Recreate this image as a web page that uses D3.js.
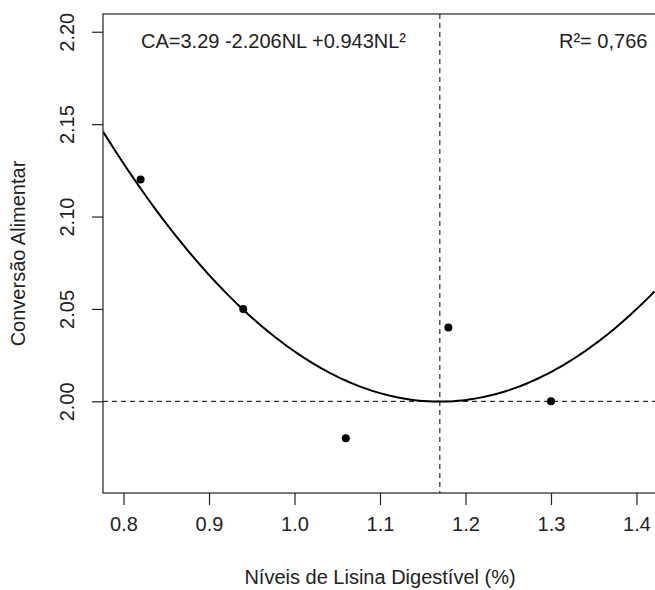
<!DOCTYPE html>
<html>
<head>
<meta charset="utf-8">
<script src="https://cdn.jsdelivr.net/npm/d3@7"></script>
<style>
  body { margin: 0; background: #fff; }
  svg { display: block; font-family: "Liberation Sans", Arial, sans-serif; }
</style>
</head>
<body>
<div id="chart"></div>
<script>
// observed points
const lysine = [0.82, 0.94, 1.06, 1.18, 1.30];
const feedConv = [2.12, 2.05, 1.98, 2.04, 2.00];

// fitted quadratic CA = b0 + b1*NL + b2*NL^2
const coef = [3.29, -2.206, 0.943];
const optimumX = 1.17;
const refY = 2.00;

const xTicks = [0.8, 0.9, 1.0, 1.1, 1.2, 1.3, 1.4];
const yTicks = [2.00, 2.05, 2.10, 2.15, 2.20];
const xLim = [0.8, 1.4];
const yLim = [1.96, 2.20];

const width = 655, height = 590;
const plot = { left: 103, top: 14, right: 657, bottom: 493 };

// R style 4% padding on the limits
const pad = (lim) => { const d = (lim[1] - lim[0]) * 0.04; return [lim[0] - d, lim[1] + d]; };

const x = d3.scaleLinear().domain(pad(xLim)).range([plot.left, plot.right]);
const y = d3.scaleLinear().domain(pad(yLim)).range([plot.bottom, plot.top]);

const svg = d3.select("#chart").append("svg")
    .attr("width", width)
    .attr("height", height);

svg.append("defs").append("clipPath").attr("id", "clip")
    .append("rect")
    .attr("x", plot.left).attr("y", plot.top)
    .attr("width", plot.right - plot.left).attr("height", plot.bottom - plot.top);

const inner = svg.append("g").attr("clip-path", "url(#clip)");

// reference lines
inner.append("line")
    .attr("x1", x(optimumX)).attr("x2", x(optimumX))
    .attr("y1", plot.top).attr("y2", plot.bottom)
    .attr("stroke", "#000").attr("stroke-width", 1)
    .attr("stroke-dasharray", "5,4");

inner.append("line")
    .attr("x1", plot.left).attr("x2", plot.right)
    .attr("y1", y(refY)).attr("y2", y(refY))
    .attr("stroke", "#000").attr("stroke-width", 1)
    .attr("stroke-dasharray", "5,4");

// fitted curve
const fit = nl => coef[0] + coef[1] * nl + coef[2] * nl * nl;
const curveX = d3.range(x.domain()[0], x.domain()[1] + 0.001, 0.005);
const line = d3.line().x(d => x(d)).y(d => y(fit(d)));
inner.append("path")
    .attr("d", line(curveX))
    .attr("fill", "none")
    .attr("stroke", "#000")
    .attr("stroke-width", 2);

// points
inner.selectAll("circle")
    .data(lysine)
    .join("circle")
    .attr("cx", d => x(d))
    .attr("cy", (d, i) => y(feedConv[i]))
    .attr("r", 4)
    .attr("fill", "#000");

// box
svg.append("rect")
    .attr("x", plot.left).attr("y", plot.top)
    .attr("width", plot.right - plot.left).attr("height", plot.bottom - plot.top)
    .attr("fill", "none")
    .attr("stroke", "#222")
    .attr("stroke-width", 1.2);

// axes
const axisX = d3.axisBottom(x).tickValues(xTicks).tickFormat(d3.format(".1f"))
    .tickSize(12).tickSizeOuter(0).tickPadding(12);
const gx = svg.append("g")
    .attr("transform", `translate(0,${plot.bottom})`)
    .call(axisX);
gx.select(".domain").remove();

const axisY = d3.axisLeft(y).tickValues(yTicks).tickFormat(d3.format(".2f"))
    .tickSize(11).tickSizeOuter(0);
const gy = svg.append("g")
    .attr("transform", `translate(${plot.left},0)`)
    .call(axisY);
gy.select(".domain").remove();
gy.selectAll(".tick text")
    .attr("transform", "rotate(-90)")
    .attr("x", 0)
    .attr("y", -29)
    .attr("dy", 0)
    .attr("text-anchor", "middle");

svg.selectAll(".tick line").attr("stroke", "#222").attr("stroke-width", 1.2);
svg.selectAll(".tick text")
    .attr("fill", "#222")
    .style("font-size", "20px")
    .style("font-family", "'Liberation Sans', Arial, sans-serif");
gx.selectAll(".tick text").attr("dy", "0.71em");

// titles
svg.append("text")
    .attr("x", (plot.left + plot.right) / 2)
    .attr("y", 584)
    .attr("text-anchor", "middle")
    .attr("fill", "#222")
    .style("font-size", "20px")
    .text("Níveis de Lisina Digestível (%)");

svg.append("text")
    .attr("transform", `translate(25,${(plot.top + plot.bottom) / 2}) rotate(-90)`)
    .attr("text-anchor", "middle")
    .attr("fill", "#222")
    .style("font-size", "20px")
    .text("Conversão Alimentar");

// annotations
svg.append("text")
    .attr("x", 141).attr("y", 48)
    .attr("fill", "#222")
    .style("font-size", "20px")
    .text("CA=3.29 -2.206NL +0.943NL²");

svg.append("text")
    .attr("x", 559).attr("y", 48)
    .attr("fill", "#222")
    .style("font-size", "20px")
    .text("R²= 0,766");
</script>
</body>
</html>
